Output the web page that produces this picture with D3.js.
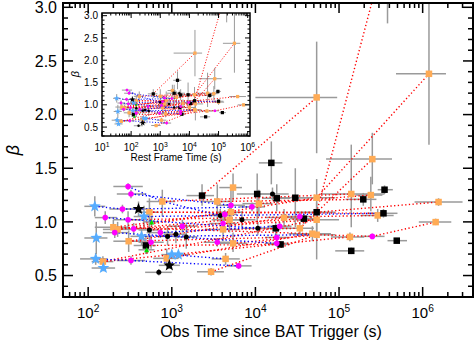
<!DOCTYPE html>
<html>
<head>
<meta charset="utf-8">
<script src="https://cdn.jsdelivr.net/npm/d3@7"></script>
<style>
  body { margin: 0; background: #fff; }
  svg { display: block; }
  text { font-family: "Liberation Sans", Arial, Helvetica, sans-serif; fill: #000; }
</style>
</head>
<body>
<svg id="chart" width="474" height="347"></svg>
<script>
// Each row: [id, obs time (s), beta, time lo, time hi, beta lo, beta hi, rest-frame time (s)]
const orangeSquares = [
  ["o0", 5.4e4, 2.16, 1e4, 9.5e4, 1.64, 2.68, 1.55e4],
  ["o1", 1.19e6, 2.38, 4.8e5, 1.9e6, 1.72, 3.1, 3.5e5],
  ["o2", 2.5e5, 1.585, 7e4, 4.3e5, 1.35, 1.83, 7.4e4],
  ["o3", 5400, 1.32, 3700, 6900, 1.2, 1.45, 2600],
  ["o4", 1.4e5, 1.26, 6e4, 3.5e5, 0.95, 1.72, 4.2e4],
  ["o5", 2.4e5, 1.25, 1.6e5, 3.3e5, 1.1, 1.42, 6.9e4],
  ["o6", 5.4e4, 1.225, 3e4, 9e4, 1.05, 1.4, 1.5e4],
  ["o7", 770, 1.19, 500, 1100, 1.05, 1.3, 190],
  ["o8", 3500, 1.19, 2200, 5000, 1.02, 1.35, 1000],
  ["o9", 1.1e4, 1.17, 7000, 1.6e4, 1.05, 1.3, 3600],
  ["o10", 1.55e6, 1.185, 8e5, 3e6, 1.15, 1.22, 4.5e5],
  ["o11", 540, 1.09, 400, 700, 0.95, 1.22, 150],
  ["o12", 5100, 1.09, 3500, 7000, 0.95, 1.3, 1600],
  ["o13", 4900, 1.02, 3000, 7500, 0.9, 1.15, 1400],
  ["o14", 5.4e4, 1.02, 3e4, 1e5, 0.9, 1.1, 1.6e4],
  ["o15", 2.2e4, 1.04, 1.3e4, 3.5e4, 0.95, 1.12, 6000],
  ["o16", 2.9e5, 1.06, 1.8e5, 4.5e5, 1.0, 1.12, 1.0e5],
  ["o17", 1.43e6, 0.998, 9e5, 2.2e6, 0.97, 1.03, 7.2e5],
  ["o18", 200, 0.95, 120, 300, 0.88, 1.02, 48],
  ["o19", 225, 0.93, 150, 330, 0.86, 1.0, 60],
  ["o20", 4100, 0.93, 2500, 6500, 0.82, 1.05, 1200],
  ["o21", 3.4e4, 0.94, 2e4, 5e4, 0.88, 1.0, 1.0e4],
  ["o22", 4.8e4, 0.89, 2.5e4, 8e4, 0.82, 0.96, 1.5e4],
  ["o23", 5.4e4, 0.88, 3e4, 9e4, 0.65, 1.1, 1.6e4],
  ["o24", 1.35e5, 0.86, 8e4, 2e5, 0.82, 0.9, 4.0e4],
  ["o25", 305, 0.82, 200, 450, 0.72, 0.92, 85],
  ["o26", 5400, 0.80, 3500, 8000, 0.72, 0.9, 1500],
  ["o27", 870, 0.66, 600, 1200, 0.58, 0.75, 250],
  ["o28", 4400, 0.655, 3000, 6500, 0.6, 0.71, 1100],
  ["o29", 150, 0.63, 110, 200, 0.58, 0.68, 46],
  ["o30", 2950, 0.535, 2000, 4200, 0.5, 0.57, 720],
  ["o31", 3.8e5, 3.6, 3.2e5, 4.5e5, 2.85, 4.3, 1.9e5]
];
const blackSquares = [
  ["k0", 1.55e4, 1.55, 1.1e4, 2.1e4, 1.35, 1.75, 3900],
  ["k1", 2300, 1.245, 1500, 3200, 1.15, 1.35, 575],
  ["k2", 1.05e4, 1.26, 6000, 1.6e4, 1.0, 1.45, 3000],
  ["k3", 1.8e4, 1.22, 1.2e4, 2.6e4, 1.1, 1.35, 5000],
  ["k4", 3e4, 1.225, 1.8e4, 4.5e4, 0.95, 1.5, 9000],
  ["k5", 3.5e5, 1.30, 2.9e5, 4.4e5, 1.26, 1.34, 9.5e4],
  ["k6", 1.95e5, 1.21, 1.2e5, 2.8e5, 1.15, 1.27, 5e4],
  ["k7", 5.4e4, 1.09, 3e4, 9e4, 1.0, 1.18, 1.5e4],
  ["k8", 3.4e5, 1.08, 2.2e5, 5e5, 1.04, 1.12, 1.0e5],
  ["k9", 3.8e4, 1.03, 2.6e4, 5.5e4, 0.98, 1.08, 1.1e4],
  ["k10", 1.75e4, 0.94, 1.2e4, 2.5e4, 0.88, 1.0, 4700],
  ["k11", 490, 0.78, 350, 650, 0.7, 0.86, 120],
  ["k12", 4.9e5, 0.825, 3.8e5, 6.5e5, 0.8, 0.85, 1.35e5],
  ["k13", 1.4e5, 0.73, 9e4, 2e5, 0.7, 0.76, 3.6e4],
  ["k14", 2e4, 0.79, 1.5e4, 2.6e4, 0.76, 0.82, 5500]
];
const blackCircles = [
  ["c0", 1.6e4, 1.26, 1e4, 2.5e4, 1.2, 1.32, 4500],
  ["c1", 6900, 1.02, 4500, 1e4, 0.95, 1.1, 2000],
  ["c2", 1.07e4, 0.94, 7000, 1.6e4, 0.88, 1.0, 3000],
  ["c3", 540, 0.925, 400, 700, 0.82, 1.05, 150],
  ["c4", 890, 0.865, 650, 1200, 0.78, 0.95, 250],
  ["c5", 1120, 0.885, 800, 1500, 0.8, 0.97, 300],
  ["c6", 1490, 0.86, 1100, 2000, 0.75, 0.98, 400],
  ["c7", 700, 0.53, 480, 1000, 0.5, 0.56, 180],
  ["c8", 3800, 1.06, 2800, 5000, 1.0, 1.12, 1000]
];
const magentaCircles = [
  ["m0", 300, 1.33, 200, 450, 1.3, 1.36, 72],
  ["m1", 325, 1.26, 220, 480, 1.22, 1.3, 85],
  ["m2", 257, 1.12, 180, 380, 1.08, 1.16, 70],
  ["m3", 160, 1.04, 120, 220, 0.98, 1.1, 45],
  ["m4", 300, 1.02, 200, 450, 0.95, 1.1, 80],
  ["m5", 208, 0.90, 150, 300, 0.85, 0.95, 55],
  ["m6", 350, 0.935, 250, 500, 0.88, 0.99, 95],
  ["m7", 730, 0.90, 500, 1000, 0.85, 0.95, 200],
  ["m8", 1340, 0.96, 900, 2000, 0.9, 1.02, 380],
  ["m9", 565, 0.81, 400, 800, 0.75, 0.87, 150],
  ["m10", 325, 0.64, 220, 480, 0.6, 0.68, 90],
  ["m11", 3500, 0.81, 2400, 5000, 0.77, 0.85, 950],
  ["m12", 5100, 1.155, 3500, 7500, 1.12, 1.19, 1400],
  ["m13", 4100, 0.985, 2800, 6000, 0.94, 1.03, 1100],
  ["m14", 9100, 1.14, 6500, 1.3e4, 1.1, 1.18, 2500],
  ["m15", 4300, 1.07, 3000, 6000, 1.03, 1.11, 1200],
  ["m16", 1.95e4, 0.96, 1.4e4, 2.7e4, 0.92, 1.0, 5000],
  ["m17", 1.8e4, 0.855, 1.3e4, 2.5e4, 0.82, 0.89, 5000],
  ["m18", 1.8e4, 0.80, 1.3e4, 2.5e4, 0.77, 0.83, 5000],
  ["m19", 3.4e4, 1.05, 2.4e4, 4.8e4, 1.01, 1.09, 9500],
  ["m20", 6300, 0.59, 4500, 9000, 0.56, 0.62, 1650],
  ["m21", 2.5e5, 0.865, 1.8e5, 3.5e5, 0.84, 0.89, 7.5e4]
];
const blueStars = [
  ["s0", 120, 1.145, 90, 160, 1.05, 1.24, 32],
  ["s1", 465, 1.05, 350, 600, 0.95, 1.15, 120],
  ["s2", 125, 0.85, 90, 170, 0.7, 1.0, 35],
  ["s3", 435, 0.865, 320, 580, 0.78, 0.95, 115],
  ["s4", 123, 0.655, 80, 170, 0.6, 0.71, 33],
  ["s5", 152, 0.57, 110, 210, 0.54, 0.6, 37],
  ["s6", 1000, 0.695, 750, 1300, 0.66, 0.73, 270],
  ["s7", 1200, 0.695, 900, 1600, 0.66, 0.73, 320]
];
const blackStars = [
  ["b0", 400, 1.12, 300, 530, 1.05, 1.19, 110],
  ["b1", 935, 0.595, 700, 1250, 0.56, 0.63, 250]
];
const greenTriangles = [
  ["g0", 575, 1.0, 450, 700, 0.95, 1.05, 150],
  ["g1", 500, 0.74, 400, 620, 0.7, 0.78, 130]
];
// Dotted connectors between measurements of the same burst (point ids)
const redLinks = [
  ["k1", "o0"], ["o6", "o1"], ["k7", "o31"], ["o21", "o2"], ["k7", "o10"],
  ["m21", "o17"], ["o23", "m21"], ["o29", "o24"], ["o29", "o14"], ["o18", "o22"],
  ["o19", "o6"], ["o25", "o15"], ["o11", "k7"], ["k11", "k14"], ["o7", "o4"],
  ["o27", "o22"], ["o30", "o23"], ["o8", "k6"], ["o9", "o5"], ["o26", "o23"],
  ["o20", "o21"], ["o18", "o12"], ["o19", "o13"], ["m4", "o16"], ["o11", "k8"],
  ["m6", "k9"], ["c3", "o14"], ["o25", "m17"]
];
const blueLinks = [
  ["s0", "m2"], ["m2", "b0"], ["b0", "m14"], ["m0", "o7"], ["o7", "c8"],
  ["m1", "m12"], ["s1", "k8"], ["s4", "m10"], ["m10", "m20"], ["s6", "o28"],
  ["s3", "o23"], ["m3", "c2"], ["m7", "m16"], ["m5", "m18"]
];
const yTicksMain = [0.5, 1.0, 1.5, 2.0, 2.5, 3.0];
const xTitle = "Obs Time since BAT Trigger (s)";
const insetTitle = "Rest Frame Time (s)";

const series = [
  { rows: orangeSquares, shape: "square", fill: "#ffab55", size: 6.5 },
  { rows: blackSquares, shape: "square", fill: "#000", size: 6.5 },
  { rows: blackCircles, shape: "circle", fill: "#000", size: 5 },
  { rows: magentaCircles, shape: "circle", fill: "#ff00ff", size: 5.6 },
  { rows: blueStars, shape: "star", fill: "#55acff", size: 12.5 },
  { rows: blackStars, shape: "star", fill: "#000", size: 12.5 },
  { rows: greenTriangles, shape: "triangle", fill: "#00e000", size: 5 }
];
const byId = {};
series.forEach(s => s.rows.forEach(r => { byId[r[0]] = r; }));

const svg = d3.select("#chart");

function starPath(cx, cy, R) {
  const r = R * 0.42, pts = [];
  for (let i = 0; i < 10; i++) {
    const a = -Math.PI / 2 + i * Math.PI / 5, rr = i % 2 ? r : R;
    pts.push([cx + rr * Math.cos(a), cy + rr * Math.sin(a)]);
  }
  return "M" + pts.map(p => p.join(",")).join("L") + "Z";
}

function drawMarker(g, shape, cx, cy, size, fill) {
  if (shape === "square") {
    g.append("rect").attr("x", cx - size / 2).attr("y", cy - size / 2)
      .attr("width", size).attr("height", size).attr("fill", fill);
  } else if (shape === "circle") {
    g.append("circle").attr("cx", cx).attr("cy", cy).attr("r", size / 2).attr("fill", fill);
  } else if (shape === "star") {
    g.append("path").attr("d", starPath(cx, cy, size / 2)).attr("fill", fill);
  } else {
    const h = size;
    g.append("path").attr("d", `M${cx},${cy - h / 2}L${cx + h / 2},${cy + h / 2}L${cx - h / 2},${cy + h / 2}Z`).attr("fill", fill);
  }
}

// Draw one panel: frame, ticks, error bars, connectors, markers
function panel(opt) {
  const { x, y, tcol, scale, clipId } = opt;
  const [x0, x1] = x.range(), [y0, y1] = y.range();
  const g = svg.append("g");
  if (opt.bg) g.append("rect").attr("x", x0).attr("y", y1).attr("width", x1 - x0).attr("height", y0 - y1).attr("fill", "#fff");

  svg.append("clipPath").attr("id", clipId).append("rect")
    .attr("x", x0).attr("y", y1).attr("width", x1 - x0).attr("height", y0 - y1);
  const data = g.append("g").attr("clip-path", `url(#${clipId})`);

  const tx = r => (tcol === 1 ? r[1] : r[7]);
  const k = r => (tcol === 1 ? 1 : r[7] / r[1]);

  // error bars
  const eb = data.append("g").attr("stroke", "#9a9a9a").attr("stroke-width", opt.ebw).attr("fill", "none");
  series.forEach(s => s.rows.forEach(r => {
    const px = x(tx(r)), py = y(r[2]);
    eb.append("line").attr("x1", x(r[3] * k(r))).attr("x2", x(r[4] * k(r))).attr("y1", py).attr("y2", py);
    eb.append("line").attr("x1", px).attr("x2", px).attr("y1", y(r[5])).attr("y2", y(r[6]));
  }));

  // dotted connectors
  [[redLinks, "#ff0000"], [blueLinks, "#0000ff"]].forEach(([links, col]) => {
    const lg = data.append("g").attr("stroke", col).attr("stroke-width", opt.lw)
      .attr("stroke-dasharray", opt.dash).attr("fill", "none");
    links.forEach(([a, b]) => {
      const ra = byId[a], rb = byId[b];
      lg.append("line").attr("x1", x(tx(ra))).attr("y1", y(ra[2]))
        .attr("x2", x(tx(rb))).attr("y2", y(rb[2]));
    });
  });

  // markers
  const mg = data.append("g");
  series.forEach(s => s.rows.forEach(r => {
    drawMarker(mg, s.shape, x(tx(r)), y(r[2]), s.size * scale, s.fill);
  }));

  // frame
  g.append("rect").attr("x", x0).attr("y", y1).attr("width", x1 - x0).attr("height", y0 - y1)
    .attr("fill", "none").attr("stroke", "#000").attr("stroke-width", opt.fw);

  // log ticks along x (bottom and top, pointing inward)
  const ax = g.append("g").attr("stroke", "#000").attr("stroke-width", opt.tw);
  const [d0, d1] = x.domain();
  for (let e = Math.floor(Math.log10(d0)); e <= Math.ceil(Math.log10(d1)); e++) {
    for (let m = 1; m <= 9; m++) {
      const v = m * Math.pow(10, e);
      if (v < d0 || v > d1) continue;
      const L = m === 1 ? opt.major : opt.minor, px = x(v);
      ax.append("line").attr("x1", px).attr("x2", px).attr("y1", y0).attr("y2", y0 - L);
      ax.append("line").attr("x1", px).attr("x2", px).attr("y1", y1).attr("y2", y1 + L);
      if (m === 1 && opt.xlabels) {
        const t = g.append("text").attr("x", px).attr("y", y0 + opt.xlabDy)
          .attr("text-anchor", "middle").attr("font-size", opt.xfs);
        t.append("tspan").text("10");
        t.append("tspan").attr("font-size", opt.xfs * 0.68).attr("dy", -opt.xfs * 0.42).text(e);
      }
    }
  }
  // linear ticks along y (left and right)
  const [b0, b1] = y.domain();
  for (let i = Math.ceil(b0 * 10 - 1e-6); i <= Math.floor(b1 * 10 + 1e-6); i++) {
    const v = i / 10, py = y(v), major = i % 5 === 0;
    const L = major ? opt.major : opt.minor;
    ax.append("line").attr("x1", x0).attr("x2", x0 + L).attr("y1", py).attr("y2", py);
    ax.append("line").attr("x1", x1).attr("x2", x1 - L).attr("y1", py).attr("y2", py);
  }
  yTicksMain.forEach(v => {
    g.append("text").attr("x", x0 - opt.ylabDx).attr("y", y(v)).attr("dy", "0.36em")
      .attr("text-anchor", "end").attr("font-size", opt.yfs).text(v.toFixed(1));
  });
  return g;
}

const xMain = d3.scaleLog().domain([50, 4e6]).range([63, 473]);
const yMain = d3.scaleLinear().domain([0.3, 3.04]).range([297, 3]);
panel({ x: xMain, y: yMain, tcol: 1, scale: 1, clipId: "clipMain", ebw: 1.5, lw: 1.4,
  dash: "1.3 2.4", fw: 2, tw: 1.5, major: 10, minor: 5, xlabels: true, xlabDy: 21,
  xfs: 15, yfs: 16, ylabDx: 6 });

svg.append("text").attr("x", 271).attr("y", 337).attr("text-anchor", "middle")
  .attr("font-size", 16).text(xTitle);
svg.append("text").attr("transform", "translate(19,150) rotate(-90)")
  .attr("text-anchor", "middle").attr("font-size", 18).attr("font-style", "italic")
  .attr("font-family", "DejaVu Sans, sans-serif").text("β");

const xIn = d3.scaleLog().domain([10, 1.2e6]).range([102, 250]);
const yIn = d3.scaleLinear().domain([0.3, 3.06]).range([136, 13]);
panel({ x: xIn, y: yIn, tcol: 7, scale: 0.5, clipId: "clipInset", bg: true, ebw: 1, lw: 1,
  dash: "1 1.8", fw: 1.5, tw: 1, major: 5, minor: 2.5, xlabels: true, xlabDy: 15,
  xfs: 10, yfs: 10, ylabDx: 4 });
svg.append("text").attr("x", 176).attr("y", 161).attr("text-anchor", "middle")
  .attr("font-size", 10).text(insetTitle);
svg.append("text").attr("transform", "translate(79,74) rotate(-90)")
  .attr("text-anchor", "middle").attr("font-size", 11).attr("font-style", "italic")
  .attr("font-family", "DejaVu Sans, sans-serif").text("β");
</script>
</body>
</html>
